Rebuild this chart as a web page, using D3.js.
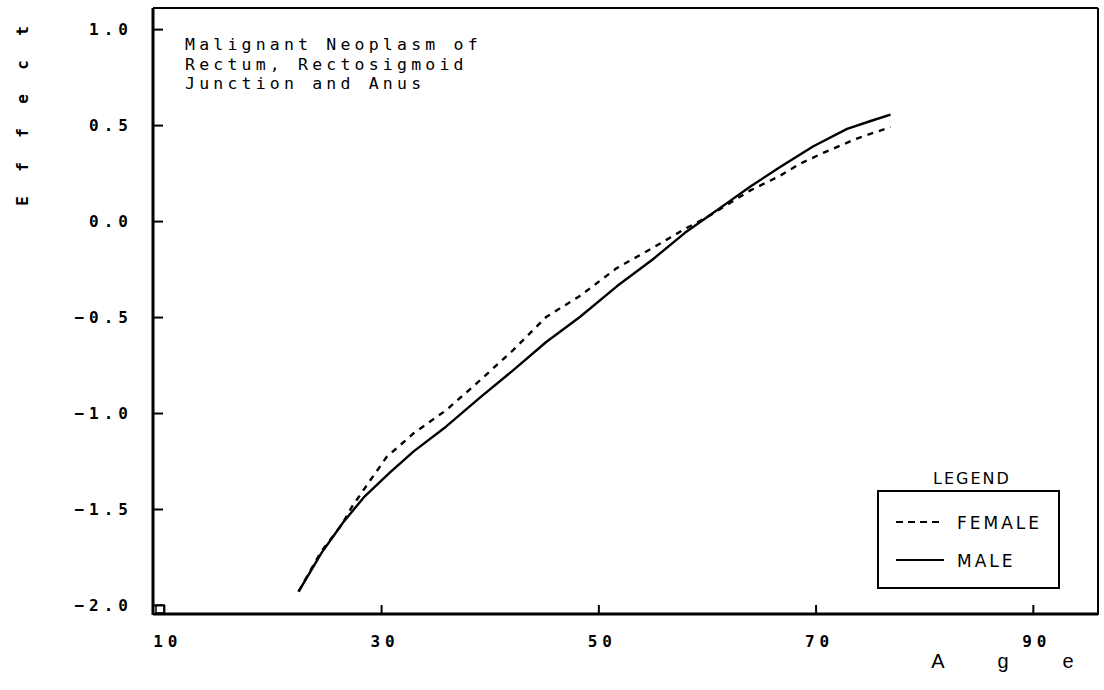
<!DOCTYPE html>
<html><head><meta charset="utf-8">
<script src="https://cdn.jsdelivr.net/npm/d3@7/dist/d3.min.js"></script>
<style>
html,body{margin:0;padding:0;background:#fff;}
svg{display:block;}
</style></head>
<body>
<svg id="c" width="1104" height="690"></svg>
<script>
// ---- data ----
const maleAge   = [22.4, 24.5, 26.5, 28.4, 30.8, 33.0, 36.0, 39.1, 42.2, 45.2, 48.3, 51.7, 55.0, 58.0, 60.0, 62.0, 64.0, 66.7, 69.8, 72.9, 75.0, 76.9];
const maleEff   = [-1.93, -1.73, -1.57, -1.44, -1.31, -1.20, -1.07, -0.92, -0.775, -0.63, -0.50, -0.34, -0.20, -0.06, 0.02, 0.10, 0.18, 0.28, 0.39, 0.48, 0.52, 0.555];
const femaleAge = [22.4, 24.5, 26.4, 27.3, 28.7, 30.5, 33.0, 36.0, 39.1, 42.2, 45.2, 48.3, 51.7, 55.0, 58.0, 60.0, 62.0, 64.0, 66.7, 68.6, 70.7, 73.8, 76.9];
const femaleEff = [-1.93, -1.72, -1.58, -1.49, -1.375, -1.23, -1.105, -0.985, -0.83, -0.67, -0.50, -0.39, -0.245, -0.14, -0.04, 0.02, 0.09, 0.16, 0.235, 0.30, 0.355, 0.43, 0.49];
const xTicks = [10, 30, 50, 70, 90];
const yTicks = [1.0, 0.5, 0.0, -0.5, -1.0, -1.5, -2.0];
const titleLines = ["Malignant Neoplasm of", "Rectum, Rectosigmoid", "Junction and Anus"];
const legendLabels = ["FEMALE", "MALE"];
const xTitle = "Age";
const yTitle = "Effect";

// ---- layout ----
const svg = d3.select("#c");
const L = 153, R = 1098, T = 8, B = 614;
const x = d3.scaleLinear().domain([9.0, 96.0]).range([L, R]);
const y = d3.scaleLinear().domain([-2.047, 1.11]).range([B, T]);

const tickFont = "'DejaVu Sans Mono', monospace";

// y axis
const yAx = svg.append("g").attr("transform", `translate(${L},0)`)
  .call(d3.axisLeft(y).tickValues(yTicks).tickFormat(d3.format(".1f"))
        .tickSizeInner(-10).tickSizeOuter(0).tickPadding(20));
yAx.select(".domain").remove();
yAx.selectAll(".tick line").attr("stroke", "#000").attr("stroke-width", 2);
yAx.selectAll(".tick text").attr("font-family", tickFont).attr("font-weight", "bold")
  .attr("font-size", 16).attr("letter-spacing", "5px").attr("fill", "#000");

// x axis
const xAx = svg.append("g").attr("transform", `translate(0,${B})`)
  .call(d3.axisBottom(x).tickValues(xTicks).tickFormat(d3.format("d"))
        .tickSizeInner(-9).tickSizeOuter(0).tickPadding(22));
xAx.select(".domain").remove();
xAx.selectAll(".tick line").attr("stroke", "#000").attr("stroke-width", 2);
xAx.selectAll(".tick text").attr("font-family", tickFont).attr("font-weight", "bold")
  .attr("font-size", 16).attr("letter-spacing", "5px").attr("fill", "#000")
  .attr("dx", "3.5px");

// frame
svg.append("line").attr("x1", L).attr("x2", L).attr("y1", T).attr("y2", B + 1).attr("stroke", "#000").attr("stroke-width", 3);
svg.append("line").attr("x1", L).attr("x2", R).attr("y1", B).attr("y2", B).attr("stroke", "#000").attr("stroke-width", 3);
svg.append("line").attr("x1", L).attr("x2", R).attr("y1", T).attr("y2", T).attr("stroke", "#000").attr("stroke-width", 2);
svg.append("line").attr("x1", R).attr("x2", R).attr("y1", T).attr("y2", B + 1).attr("stroke", "#000").attr("stroke-width", 2);
// small corner square
svg.append("rect").attr("x", L + 3).attr("y", B - 9).attr("width", 8).attr("height", 8)
  .attr("fill", "none").attr("stroke", "#000").attr("stroke-width", 1.5);

// lines
const line = d3.line().x(d => x(d[0])).y(d => y(d[1])).curve(d3.curveLinear);
const male = maleAge.map((a, i) => [a, maleEff[i]]);
const female = femaleAge.map((a, i) => [a, femaleEff[i]]);
svg.append("path").datum(male).attr("d", line).attr("fill", "none")
  .attr("stroke", "#000").attr("stroke-width", 2.4).attr("stroke-linejoin", "round");
svg.append("path").datum(female).attr("d", line).attr("fill", "none")
  .attr("stroke", "#000").attr("stroke-width", 2.4).attr("stroke-dasharray", "6,6");

// title
titleLines.forEach((s, i) => {
  svg.append("text").attr("x", 185).attr("y", 50 + i * 19.5)
    .attr("font-family", "'DejaVu Sans Mono', monospace")
    .attr("font-size", 16.5).attr("letter-spacing", "4.2px").attr("fill", "#000").text(s);
});

// axis titles
yTitle.split("").forEach((ch, i) => {
  svg.append("text").attr("transform", `translate(28,${201 - i * 34}) rotate(-90)`)
    .attr("text-anchor", "middle")
    .attr("font-family", tickFont).attr("font-weight", "bold").attr("font-size", 16)
    .attr("fill", "#000").text(ch);
});
xTitle.split("").forEach((ch, i) => {
  svg.append("text").attr("x", 938 + i * 65).attr("y", 668).attr("text-anchor", "middle")
    .attr("font-family", "'Liberation Sans Narrow', 'Liberation Sans', sans-serif")
    .attr("font-size", 20).attr("fill", "#000").text(ch);
});

// legend
const legFont = "'DejaVu Sans', sans-serif";
svg.append("text").attr("x", 972).attr("y", 484).attr("text-anchor", "middle")
  .attr("font-family", legFont).attr("font-size", 16).attr("letter-spacing", "2px")
  .attr("fill", "#000").text("LEGEND");
svg.append("rect").attr("x", 878).attr("y", 491).attr("width", 181).attr("height", 97)
  .attr("fill", "none").attr("stroke", "#000").attr("stroke-width", 2);
const legRows = [{y: 522, dash: "7,5"}, {y: 560, dash: null}];
legendLabels.forEach((lab, i) => {
  const r = legRows[i];
  const l = svg.append("line").attr("x1", 896).attr("x2", 944).attr("y1", r.y).attr("y2", r.y)
    .attr("stroke", "#000").attr("stroke-width", 2);
  if (r.dash) l.attr("stroke-dasharray", r.dash);
  svg.append("text").attr("x", 957).attr("y", r.y + 7)
    .attr("font-family", legFont).attr("font-size", 17).attr("letter-spacing", "3px")
    .attr("fill", "#000").text(lab);
});
</script>
</body></html>
